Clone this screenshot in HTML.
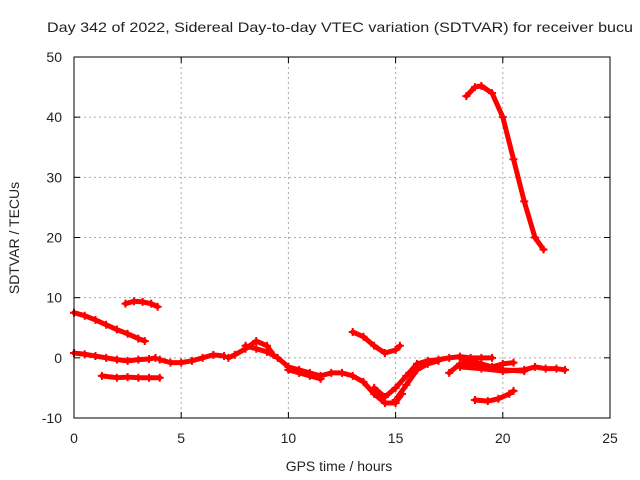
<!DOCTYPE html>
<html><head><meta charset="utf-8"><style>body{margin:0;background:#fff}svg{display:block}text{font-family:"Liberation Sans",sans-serif;font-size:14px;fill:#222}</style></head>
<body>
<svg id="chart" width="640" height="480" viewBox="0 0 640 480" xmlns="http://www.w3.org/2000/svg">
<rect width="640" height="480" fill="#fff"/>
<text x="47" y="32" textLength="586" lengthAdjust="spacingAndGlyphs">Day 342 of 2022, Sidereal Day-to-day VTEC variation (SDTVAR) for receiver bucu</text>
<g id="grid"></g>
<g id="axes"></g>
<g id="series"></g>
<rect x="74" y="57" width="536" height="361" fill="none" stroke="#000" stroke-width="1"/>
<text x="339" y="471" text-anchor="middle">GPS time / hours</text>
<text transform="translate(19,238) rotate(-90)" text-anchor="middle">SDTVAR / TECUs</text>
</svg>
<script>
const xTicks=[0,5,10,15,20,25];
const yTicks=[-10,0,10,20,30,40,50];
const arc1=[[0,7.5],[0.5,7],[1,6.3],[1.5,5.5],[2,4.7],[2.5,4],[3,3.2],[3.3,2.8]];
const arc2=[[2.4,9],[2.8,9.4],[3.2,9.3],[3.6,9],[3.9,8.5]];
const arc3=[[0,0.8],[0.5,0.6],[1,0.3],[1.5,0],[2,-0.3],[2.5,-0.5],[3,-0.3],[3.5,-0.2],[3.8,0]];
const arc4=[[1.3,-3],[2,-3.3],[2.5,-3.2],[3,-3.3],[3.5,-3.3],[4,-3.3]];
const arc5=[[4,-0.3],[4.5,-0.8],[5,-0.8],[5.5,-0.5],[6,0],[6.5,0.5],[7,0.3]];
const arc6=[[7.2,0],[7.5,0.5],[8,1.5],[8.5,2.8],[9,2],[9.3,0.5]];
const arc7=[[8,2],[8.5,1.5],[9,1],[9.5,0],[10,-1.5],[10.5,-2],[11,-2.5],[11.5,-3],[12,-2.5],[12.5,-2.5],[13,-3],[13.5,-4],[14,-6],[14.5,-7.5],[15,-7.5],[15.3,-6]];
const arc8=[[10,-2],[10.5,-2.5],[11,-3],[11.5,-3.5]];
const arc9=[[13,4.3],[13.5,3.5],[14,2],[14.5,0.8],[15,1.3],[15.2,2]];
const arc10=[[14,-5],[14.5,-6.5],[15,-5],[15.5,-3],[16,-1],[16.5,-0.5],[17,-0.3],[17.5,0],[18,0.2],[18.5,0],[19,0],[19.5,0]];
const arc11=[[15,-7],[15.5,-4.5],[16,-2],[16.5,-1],[17,-0.5]];
const arc12=[[18.3,43.5],[18.7,45],[19,45.2],[19.5,44],[20,40],[20.5,33],[21,26],[21.5,20],[21.9,18]];
const arc13=[[17.5,-2.5],[18,-1],[18.5,-0.8],[19,-1.3],[19.5,-1.5],[20,-1],[20.5,-0.8]];
const arc14=[[18.7,-7],[19.3,-7.2],[19.8,-6.8],[20.3,-6],[20.5,-5.5]];
const arc15=[[18,-1.5],[19,-1.8],[20,-2.2],[21,-2],[21.5,-1.5],[22,-1.8],[22.5,-1.8],[22.9,-2]];
const arc16=[[18,0],[19,-1],[20,-2],[21,-2.2]];
const allArcs=[arc1,arc2,arc3,arc4,arc5,arc6,arc7,arc8,arc9,arc10,arc11,arc12,arc13,arc14,arc15,arc16];
const NS="http://www.w3.org/2000/svg";
const X0=74,X1=610,Y0=418,Y1=57;
function sx(v){return X0+(v-0)/(25-0)*(X1-X0);}
function sy(v){return Y0-(v+10)/(60)*(Y0-Y1);}
function mk(t,a,p){const e=document.createElementNS(NS,t);for(const k in a)e.setAttribute(k,a[k]);p.appendChild(e);return e;}
const grid=document.getElementById('grid'),axes=document.getElementById('axes'),series=document.getElementById('series');
xTicks.forEach(t=>{const x=sx(t);
 if(t>0&&t<25){const l=mk('line',{x1:x,x2:x,y1:Y1,y2:Y0,stroke:'#aaa','stroke-dasharray':'2,3'},grid);}
 mk('line',{x1:x,x2:x,y1:Y0,y2:Y0-6,stroke:'#000'},axes);mk('line',{x1:x,x2:x,y1:Y1,y2:Y1+6,stroke:'#000'},axes);
 const tx=mk('text',{x:x,y:443,'text-anchor':'middle'},axes);tx.textContent=t;
 
 });
yTicks.forEach(t=>{const y=sy(t);
 if(t>-10&&t<50){const l=mk('line',{x1:X0,x2:X1,y1:y,y2:y,stroke:'#aaa','stroke-dasharray':'2,3'},grid);}
 mk('line',{x1:X0,x2:X0+6,y1:y,y2:y,stroke:'#000'},axes);mk('line',{x1:X1,x2:X1-6,y1:y,y2:y,stroke:'#000'},axes);
 const tx=mk('text',{x:62,y:y+5,'text-anchor':'end'},axes);tx.textContent=t;
 
 });
allArcs.forEach((arc,i)=>{
 const pts=arc.map(p=>sx(p[0])+','+sy(p[1])).join(' ');
 const pl=mk('polyline',{points:pts,fill:'none',stroke:'#f00','stroke-width':5,'stroke-linejoin':'round','stroke-linecap':'round'},series);
 
 
 arc.forEach(p=>{const x=sx(p[0]),y=sy(p[1]);
  mk('path',{d:`M${x-4},${y}H${x+4}M${x},${y-4}V${y+4}`,stroke:'#f00','stroke-width':2},series);});
});
</script>
</body></html>
